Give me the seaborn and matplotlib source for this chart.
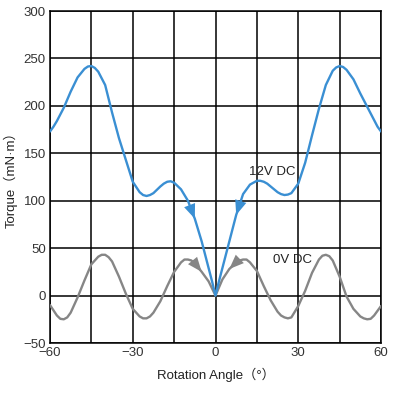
import matplotlib
matplotlib.use("Agg")
import matplotlib.pyplot as plt
import seaborn as sns
import pandas as pd
from matplotlib.ticker import MultipleLocator

# 12V DC series (angle in degrees, torque in mN·m)
angles_12v = [-60, -58.75, -57.5, -55, -52.5, -50, -47.5, -46.25, -45, -43.75, -42.5,
              -40, -37.5, -35, -32.5, -30, -27.5, -26.25, -25, -23.75, -22.5, -20,
              -18.75, -17.5, -16.25, -15, -12.5, -10, -7.5, -5, -2.5, -1.25, 0,
              1.25, 2.5, 5, 7.5, 10, 12.5, 15, 16.25, 17.5, 18.75, 20, 22.5, 23.75,
              25, 26.25, 27.5, 30, 32.5, 35, 37.5, 40, 42.5, 43.75, 45, 46.25, 47.5,
              50, 52.5, 55, 57.5, 58.75, 60]
torque_12v = [173, 178, 184, 198, 215, 230, 239, 241.5, 242, 240, 236,
              222, 193, 166, 143, 120, 109, 106, 105, 106, 108, 115,
              118, 120, 120.5, 119, 112, 100, 81, 57, 29, 15, 0,
              15, 29, 57, 85, 107, 117, 121, 121, 120, 118, 115, 109, 107,
              106, 106.5, 108, 118, 140, 169, 197, 222, 237, 240.5, 242, 241, 238,
              228, 213, 199, 185, 178, 173]

# 0V DC series
angles_0v = [-60, -57.5, -56.25, -55, -53.75, -52.5, -50, -47.5, -45, -42.5, -41.25,
             -40, -38.75, -37.5, -35, -32.5, -30, -27.5, -26.25, -25, -23.75, -22.5,
             -20, -17.5, -15, -12.5, -11.25, -10, -8.75, -7.5, -5, -2.5, 0,
             2.5, 5, 7.5, 8.75, 10, 11.25, 12.5, 15, 17.5, 20, 22.5, 23.75, 25,
             26.25, 27.5, 30, 32.5, 35, 37.5, 38.75, 40, 41.25, 42.5, 45, 47.5, 50,
             52.5, 53.75, 55, 56.25, 57.5, 60]
torque_0v = [-10, -21, -24.5, -25, -23, -18, -2, 16, 33, 41, 43,
             43, 40.5, 36, 20, 2, -14, -22, -24, -24, -22, -18,
             -6, 10, 25, 35, 38, 38, 37, 34, 25, 15, 0,
             17, 28, 35, 37, 38, 38, 35, 26, 10, -5, -17, -21, -23,
             -24, -23, -11, 5, 24, 38, 42, 43, 41.5, 37, 20, -1, -14,
             -22, -24, -25, -24.5, -21, -11]

labels = ["12V DC", "0V DC"]
x_ticks = [-60, -30, 0, 30, 60]
y_ticks = [-50, 0, 50, 100, 150, 200, 250, 300]

blue = "#3a8fd3"
gray = "#868686"

sns.set_style("white")
plt.rcParams["font.family"] = ["Liberation Sans", "Noto Sans CJK JP", "DejaVu Sans"]

fig = plt.figure(figsize=(3.93, 3.93), dpi=100)
ax = fig.add_axes([0.1272, 0.1272, 0.9695 - 0.1272, 0.972 - 0.1272])

df12 = pd.DataFrame({"angle": angles_12v, "torque": torque_12v})
df0 = pd.DataFrame({"angle": angles_0v, "torque": torque_0v})
sns.lineplot(data=df0, x="angle", y="torque", ax=ax, color=gray, linewidth=1.7, zorder=3)
sns.lineplot(data=df12, x="angle", y="torque", ax=ax, color=blue, linewidth=1.7, zorder=4)

def arrow(xs, ys, a_from, a_to, color):
    i, j = xs.index(a_from), xs.index(a_to)
    ax.annotate("", xy=(xs[j], ys[j]), xytext=(xs[i], ys[i]),
                arrowprops=dict(arrowstyle="-|>,head_length=0.75,head_width=0.3",
                                color=color, lw=0, shrinkA=0, shrinkB=0,
                                mutation_scale=14), zorder=5)

arrow(angles_12v, torque_12v, -10, -7.5, blue)
arrow(angles_12v, torque_12v, 10, 7.5, blue)
arrow(angles_0v, torque_0v, -7.5, -5, gray)
arrow(angles_0v, torque_0v, 7.5, 5, gray)

ax.text(12.3, 130, labels[0], fontsize=9.5, color="#222222", va="center", ha="left", zorder=6)
ax.text(20.9, 37.5, labels[1], fontsize=9.5, color="#222222", va="center", ha="left", zorder=6)

ax.set_xlim(-60, 60)
ax.set_ylim(-50, 300)
ax.set_xticks(x_ticks)
ax.set_yticks(y_ticks)
ax.xaxis.set_minor_locator(MultipleLocator(15))
ax.grid(True, which="both", color="black", linewidth=1.1)
ax.set_axisbelow(True)
ax.tick_params(axis="both", which="both", length=0, labelsize=9.5, labelcolor="#333333")
ax.tick_params(axis="x", pad=3)
ax.tick_params(axis="y", pad=3)
for s in ax.spines.values():
    s.set_color("black")
    s.set_linewidth(1.1)

ax.set_xlabel("Rotation Angle（°）", fontsize=9.5, color="#222222", labelpad=6)
ax.set_ylabel("Torque（mN·m）", fontsize=9.5, color="#222222", labelpad=4)

fig.savefig("out.png", dpi=100)
